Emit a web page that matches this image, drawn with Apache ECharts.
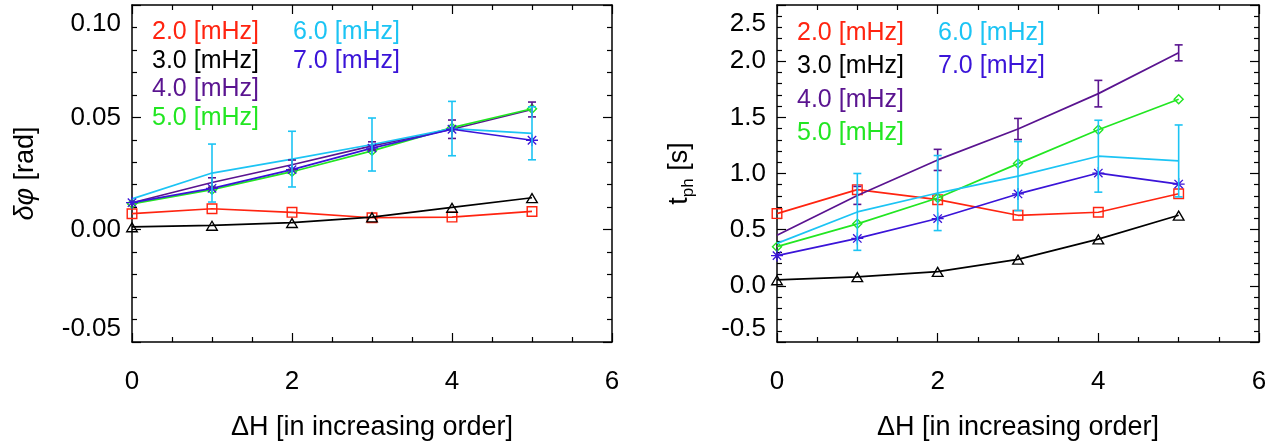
<!DOCTYPE html>
<html>
<head>
<meta charset="utf-8">
<script src="https://cdn.jsdelivr.net/npm/echarts@6/dist/echarts.min.js"></script>
<style>
html,body{margin:0;padding:0;background:#fff;}
#chart{width:1281px;height:446px;}
</style>
</head>
<body>
<div id="chart"></div>
<script>
// ---------- data ----------
const xValues = [0, 1, 2, 3, 4, 5];
const freqLabels = ['2.0 [mHz]', '3.0 [mHz]', '4.0 [mHz]', '5.0 [mHz]', '6.0 [mHz]', '7.0 [mHz]'];

// left panel: phase difference [rad]
const phase_2 = [0.0071, 0.0093, 0.0077, 0.0053, 0.0056, 0.0081];
const phase_3 = [0.0012, 0.0019, 0.0031, 0.0056, 0.0099, 0.0142];
const phase_4 = [0.0120, 0.0210, 0.0289, 0.0373, 0.0447, 0.0535];
const phase_5 = [0.0115, 0.0178, 0.0258, 0.0351, 0.0454, 0.0538];
const phase_6 = [0.0137, 0.0252, 0.0314, 0.0379, 0.0450, 0.0429];
const phase_7 = [0.0120, 0.0184, 0.0267, 0.0363, 0.0447, 0.0398];
const phaseErr_4 = [null, 0.0021, 0.0021, 0.0018, 0.0041, 0.0033];
const phaseErr_6 = [null, 0.0129, 0.0124, 0.0118, 0.0121, 0.0118];

// right panel: phase travel time [s]
const time_2 = [0.643, 0.856, 0.767, 0.628, 0.655, 0.820];
const time_3 = [0.053, 0.080, 0.127, 0.236, 0.416, 0.628];
const time_4 = [0.451, 0.805, 1.121, 1.396, 1.711, 2.074];
const time_5 = [0.349, 0.552, 0.782, 1.088, 1.389, 1.661];
const time_6 = [0.378, 0.658, 0.826, 0.977, 1.154, 1.112];
const time_7 = [0.269, 0.422, 0.599, 0.818, 1.004, 0.906];
const timeErr_4 = [null, 0.080, 0.094, 0.094, 0.118, 0.071];
const timeErr_6 = [null, 0.342, 0.334, 0.307, 0.320, 0.320];

const xTicks = ['0', '2', '4', '6'];
const phaseTicks = ['-0.05', '0.00', '0.05', '0.10'];
const timeTicks = ['-0.5', '0.0', '0.5', '1.0', '1.5', '2.0', '2.5'];

// ---------- styles ----------
const FONT = 'Liberation Sans';
const colors = ['#ff2410', '#000000', '#5a1490', '#22e622', '#1cc4f4', '#3a14d8'];
const SYM_SQUARE = 'path://M0,0L20,0L20,20L0,20ZM2.6,2.6L2.6,17.4L17.4,17.4L17.4,2.6Z';
const SYM_TRI = 'path://M10,0L20,17L0,17ZM10,4.2L3.7,14.9L16.3,14.9Z';
const SYM_DIAM = 'path://M10,0L20,10L10,20L0,10ZM10,3.6L3.6,10L10,16.4L16.4,10Z';
const SYM_AST = 'path://M0,8.9L20,8.9L20,11.1L0,11.1Z' +
  'M8.9,0L11.1,0L11.1,20L8.9,20Z' +
  'M3.78,2.22L17.78,16.22L16.22,17.78L2.22,3.78Z' +
  'M17.78,3.78L3.78,17.78L2.22,16.22L16.22,2.22Z';
const symbols = [SYM_SQUARE, SYM_TRI, 'none', SYM_DIAM, 'none', SYM_AST];
const symbolSizes = [11, [13, 11], 0, [11, 11], 0, 12];

const chart = echarts.init(document.getElementById('chart'), null, {renderer: 'canvas'});

function pair(vals) { return xValues.map((x, k) => [x, vals[k]]); }
function errData(vals, errs) {
  const out = [];
  xValues.forEach((x, k) => { if (errs[k] != null) out.push([x, vals[k] - errs[k], vals[k] + errs[k]]); });
  return out;
}

function errSeries(name, color, data, axisIdx) {
  return {
    name: name, type: 'custom', xAxisIndex: axisIdx, yAxisIndex: axisIdx,
    data: data, encode: {x: 0, y: [1, 2]}, z: 3, silent: true,
    renderItem: function (params, api) {
      const x = api.value(0);
      const a = api.coord([x, api.value(1)]);
      const b = api.coord([x, api.value(2)]);
      const w = 4;
      const st = {stroke: color, lineWidth: 1.6, fill: null};
      return {
        type: 'group',
        children: [
          {type: 'line', shape: {x1: a[0], y1: a[1], x2: b[0], y2: b[1]}, style: st},
          {type: 'line', shape: {x1: a[0] - w, y1: a[1], x2: a[0] + w, y2: a[1]}, style: st},
          {type: 'line', shape: {x1: b[0] - w, y1: b[1], x2: b[0] + w, y2: b[1]}, style: st}
        ]
      };
    }
  };
}

const series = [];
function addPanel(valueSets, errSets, axisIdx) {
  valueSets.forEach((vals, i) => {
    series.push({
      name: freqLabels[i], type: 'line', xAxisIndex: axisIdx, yAxisIndex: axisIdx,
      data: pair(vals),
      symbol: symbols[i], symbolSize: symbolSizes[i], showSymbol: symbols[i] !== 'none',
      lineStyle: {color: colors[i], width: 1.7},
      itemStyle: {color: colors[i]},
      z: 2 + i * 0.01, animation: false, silent: true
    });
    if (errSets[i]) series.push(errSeries(freqLabels[i], colors[i], errData(vals, errSets[i]), axisIdx));
  });
}
addPanel([phase_2, phase_3, phase_4, phase_5, phase_6, phase_7], [null, null, phaseErr_4, null, phaseErr_6, null], 0);
addPanel([time_2, time_3, time_4, time_5, time_6, time_7], [null, null, timeErr_4, null, timeErr_6, null], 2);

const axisLine = {show: true, onZero: false, lineStyle: {color: '#000', width: 1.5}};
const tick = {show: true, inside: true, length: 9, lineStyle: {color: '#000', width: 1.2}};
const minor = (n) => ({show: true, splitNumber: n, length: 5, lineStyle: {color: '#000', width: 1.2}});
const labelStyle = {fontFamily: FONT, fontSize: 26, color: '#000'};

function xAxes(grid) {
  return [
    {
      type: 'value', gridIndex: grid, position: 'bottom', min: 0, max: 6, interval: 2,
      axisLine: axisLine, axisTick: tick, minorTick: minor(4), splitLine: {show: false},
      axisLabel: Object.assign({margin: 27, formatter: (v) => xTicks[Math.round(v / 2)]}, labelStyle),
      name: 'ΔH [in increasing order]', nameLocation: 'middle', nameGap: 72,
      nameTextStyle: {fontFamily: FONT, fontSize: 27, color: '#000'}
    },
    {
      type: 'value', gridIndex: grid, position: 'top', min: 0, max: 6, interval: 2,
      axisLine: axisLine, axisTick: tick, minorTick: minor(4), splitLine: {show: false},
      axisLabel: {show: false}
    }
  ];
}

function yAxes(grid, min, max, interval, ticks, name, nameGap, rich) {
  const lab = (v) => ticks[Math.round((v - min) / interval)];
  return [
    {
      type: 'value', gridIndex: grid, position: 'left', min: min, max: max, interval: interval,
      axisLine: axisLine, axisTick: tick, minorTick: minor(5), splitLine: {show: false},
      axisLabel: Object.assign({margin: 11, padding: [6, 0, 0, 0], formatter: lab,
        verticalAlignMaxLabel: 'top', verticalAlignMinLabel: 'bottom'}, labelStyle),
      name: name, nameLocation: 'middle', nameGap: nameGap, nameRotate: 90,
      nameTextStyle: {fontFamily: FONT, fontSize: 27, color: '#000', rich: rich}
    },
    {
      type: 'value', gridIndex: grid, position: 'right', min: min, max: max, interval: interval,
      axisLine: axisLine, axisTick: tick, minorTick: minor(5), splitLine: {show: false},
      axisLabel: {show: false}
    }
  ];
}

function legend(left, top, rowH, names) {
  return {
    show: true, orient: 'vertical', left: left, top: top, padding: 0,
    itemGap: 0, itemWidth: 0, itemHeight: rowH, icon: 'none', selectedMode: false,
    textStyle: {fontFamily: FONT, fontSize: 25, lineHeight: rowH},
    data: names.map((n) => ({name: n, textStyle: {color: colors[freqLabels.indexOf(n)]}}))
  };
}

const option = {
  animation: false,
  backgroundColor: '#fff',
  grid: [
    {left: 132, top: 5, width: 480, height: 339},
    {left: 777, top: 5, width: 482, height: 338}
  ],
  xAxis: [...xAxes(0), ...xAxes(1)],
  yAxis: [
    ...yAxes(0, -0.05, 0.10, 0.05, phaseTicks, '{g|δφ} [rad]', 93,
      {g: {fontFamily: FONT, fontSize: 27, fontStyle: 'italic', color: '#000'}}),
    ...yAxes(1, -0.5, 2.5, 0.5, timeTicks, '{t|t}{s|ph}{n| [s]}', 80, {
      t: {fontFamily: FONT, fontSize: 27, color: '#000', lineHeight: 34, verticalAlign: 'middle'},
      s: {fontFamily: FONT, fontSize: 17, color: '#000', lineHeight: 34, verticalAlign: 'bottom'},
      n: {fontFamily: FONT, fontSize: 27, color: '#000', lineHeight: 34, verticalAlign: 'middle'}
    })
  ],
  legend: [
    legend(147, 18, 28.6, freqLabels.slice(0, 4)),
    legend(288, 18, 28.6, freqLabels.slice(4)),
    legend(792, 16, 33.5, freqLabels.slice(0, 4)),
    legend(933, 16, 33.5, freqLabels.slice(4))
  ],
  series: series
};
chart.setOption(option);
</script>
</body>
</html>
